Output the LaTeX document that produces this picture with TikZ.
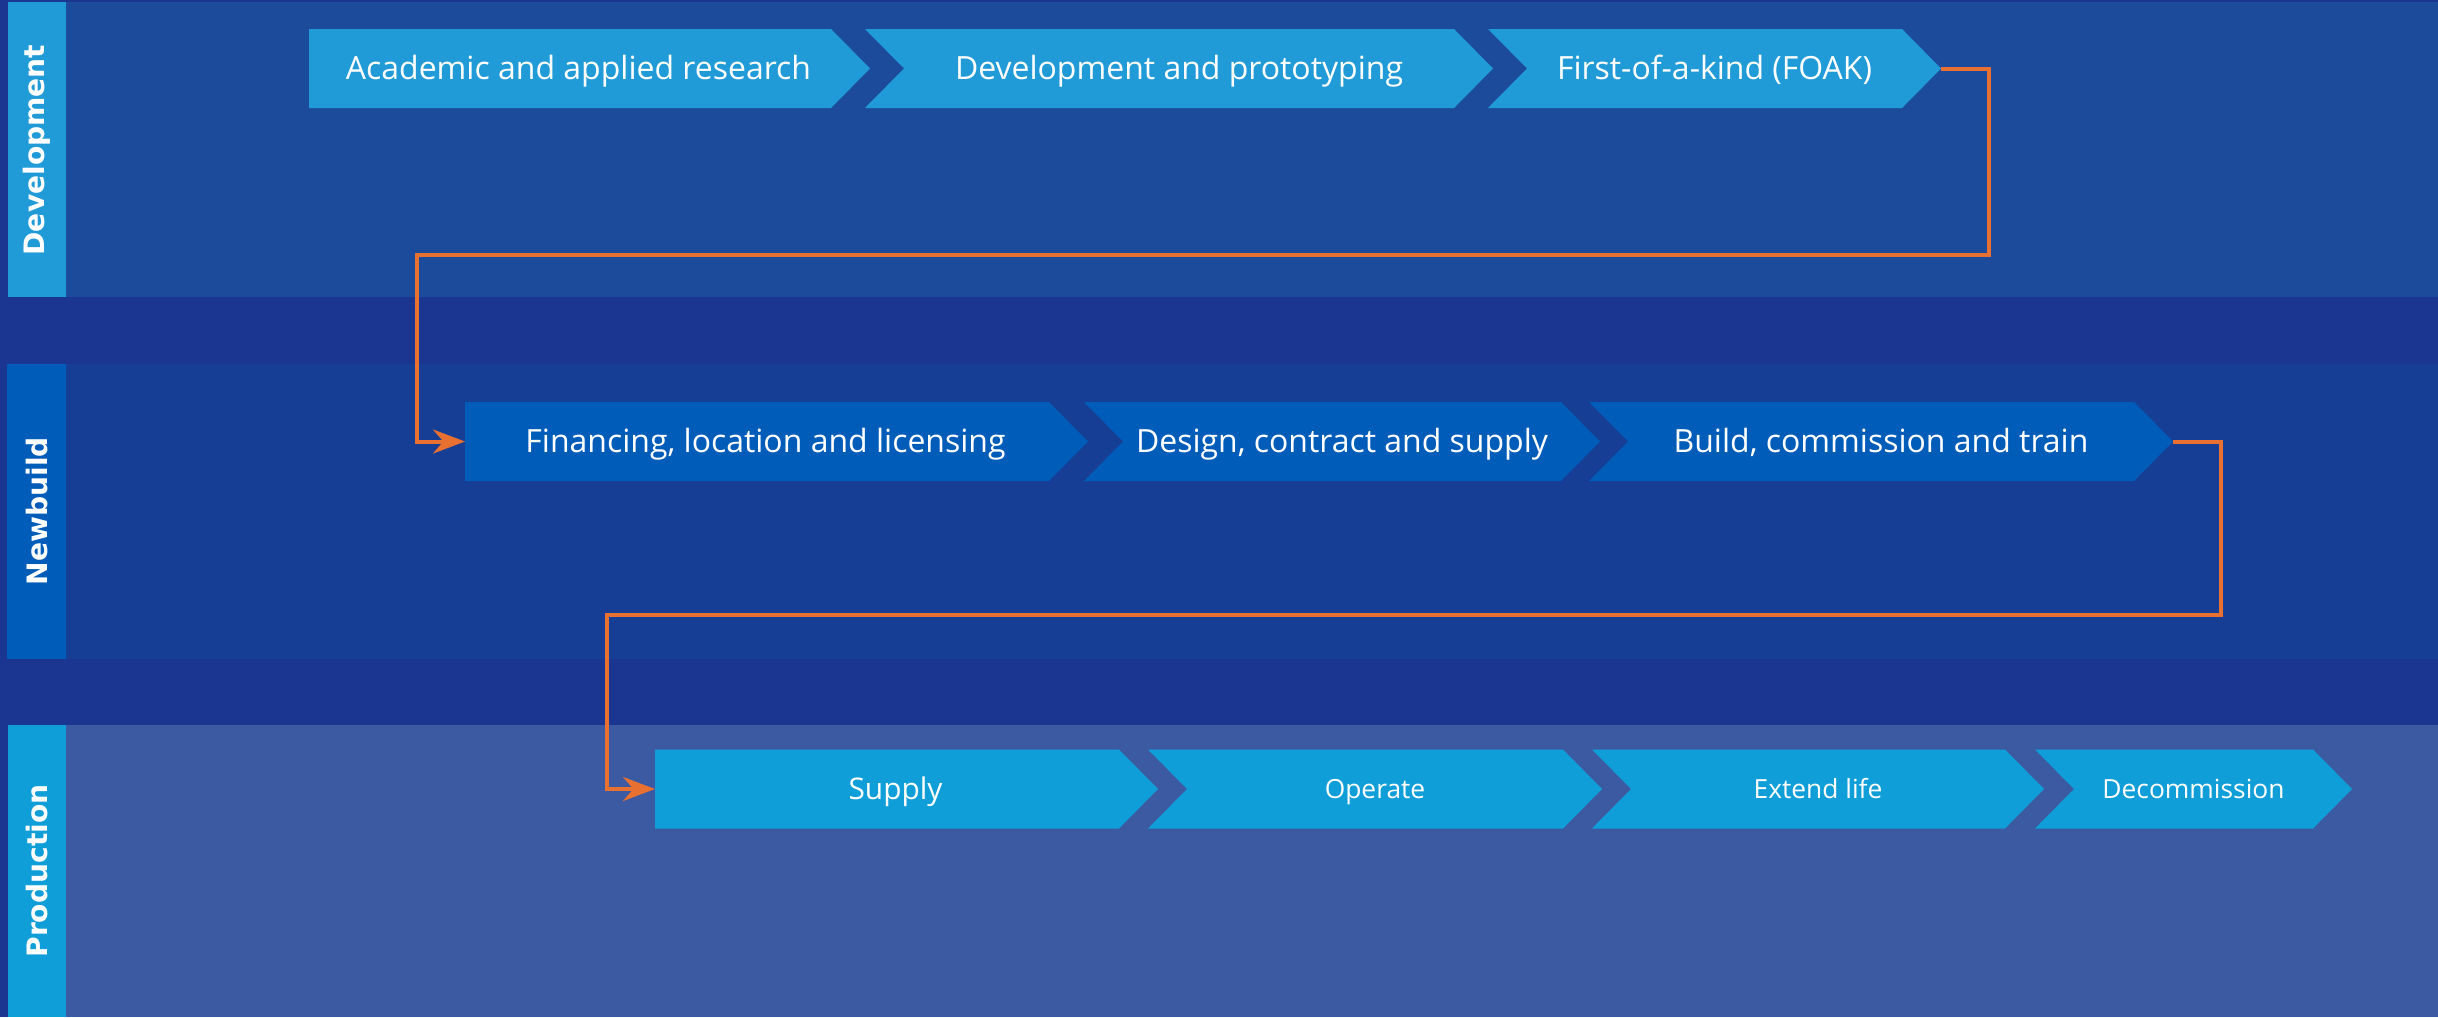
\documentclass[tikz,border=0pt]{standalone}
\usepackage{fontspec}
\setmainfont{Open Sans}
\newfontfamily\lanefont{DejaVu Sans}
\usetikzlibrary{arrows.meta, calc}

\definecolor{bgdark}{RGB}{27,54,144}
\definecolor{devband}{RGB}{28,75,155}
\definecolor{devstage}{RGB}{33,155,216}
\definecolor{newband}{RGB}{23,62,149}
\definecolor{newstage}{RGB}{0,92,185}
\definecolor{prodband}{RGB}{60,90,162}
\definecolor{prodstage}{RGB}{15,158,216}
\definecolor{linkorange}{RGB}{232,112,48}

\begin{document}
\begin{tikzpicture}[
  font=\fontsize{9.1}{11}\selectfont,
  stage/.style={rectangle, minimum height=7.9mm, inner sep=0pt, outer sep=0pt, text=white,
    text height=6.5pt, text depth=0pt,
    path picture={\fill[#1] (path picture bounding box.north west)
      -- ($(path picture bounding box.north east)+(-3.9mm,0)$)
      -- (path picture bounding box.east)
      -- ($(path picture bounding box.south east)+(-3.9mm,0)$)
      -- (path picture bounding box.south west)
      -- ($(path picture bounding box.west)+(3.9mm,0)$) -- cycle;}},
  firststage/.style={rectangle, minimum height=7.9mm, inner sep=0pt, outer sep=0pt, text=white,
    text height=6.5pt, text depth=0pt, execute at end node=\hspace*{2.2mm},
    path picture={\fill[#1] (path picture bounding box.north west)
      -- ($(path picture bounding box.north east)+(-3.9mm,0)$)
      -- (path picture bounding box.east)
      -- ($(path picture bounding box.south east)+(-3.9mm,0)$)
      -- (path picture bounding box.south west) -- cycle;}},
  smalltext/.style={font=\fontsize{7.5}{9}\selectfont, text height=5.4pt},
  lanelabel/.style={rotate=90, text=white, inner sep=0pt, font=\lanefont\bfseries\fontsize{8}{10}\selectfont},
  link/.style={-{Stealth[length=3.2mm, width=2.4mm]}, line width=0.4mm, draw=linkorange},
  x=0.1mm,
  y=0.1mm
]

% Background and lanes
\fill[bgdark] (0,0) rectangle (2438,1017);
\fill[devband] (8,720) rectangle (2438,1015);
\fill[newband] (7,358) rectangle (2438,653);
\fill[prodband] (8,0) rectangle (2438,292);
\fill[devstage] (8,720) rectangle (66,1015);
\fill[newstage] (7,358) rectangle (66,653);
\fill[prodstage] (8,0) rectangle (66,292);

% Lane titles
\node[lanelabel] (devlabel) at (37,867) {Development};
\node[lanelabel] (newlabel) at (37,506) {Newbuild};
\node[lanelabel] (prodlabel) at (37,146) {Production};

% Development stages
\node[firststage=devstage, minimum width=56.1mm] (research) at (589.5,948.5) {Academic and applied research};
\node[stage=devstage, minimum width=62.8mm] (proto) at (1179,948.5) {Development and prototyping};
\node[stage=devstage, minimum width=45.3mm] (foak) at (1714.5,948.5) {First-of-a-kind (FOAK)};

% Newbuild stages
\node[firststage=newstage, minimum width=62.3mm] (finance) at (776.5,575.5) {Financing, location and licensing};
\node[stage=newstage, minimum width=51.6mm] (design) at (1342,575.5) {Design, contract and supply};
\node[stage=newstage, minimum width=58.4mm] (build) at (1881,575.5) {Build, commission and train};

% Production stages
\node[firststage=prodstage, minimum width=50.3mm, font=\fontsize{8.5}{10}\selectfont, text height=6.1pt] (supply) at (906.5,228) {Supply};
\node[stage=prodstage, minimum width=45.4mm, smalltext] (operate) at (1375,228) {Operate};
\node[stage=prodstage, minimum width=45.2mm, smalltext] (extend) at (1818,228) {Extend life};
\node[stage=prodstage, minimum width=31.7mm, smalltext] (decom) at (2193.5,228) {Decommission};

% Hand-over links
\coordinate (turnA) at (417,762);
\coordinate (turnB) at (607,402);
\draw[link] (foak.east) -- ++(48,0) |- (turnA) |- (finance.west);
\draw[link] (build.east) -- ++(48,0) |- (turnB) |- (supply.west);

\end{tikzpicture}
\end{document}
